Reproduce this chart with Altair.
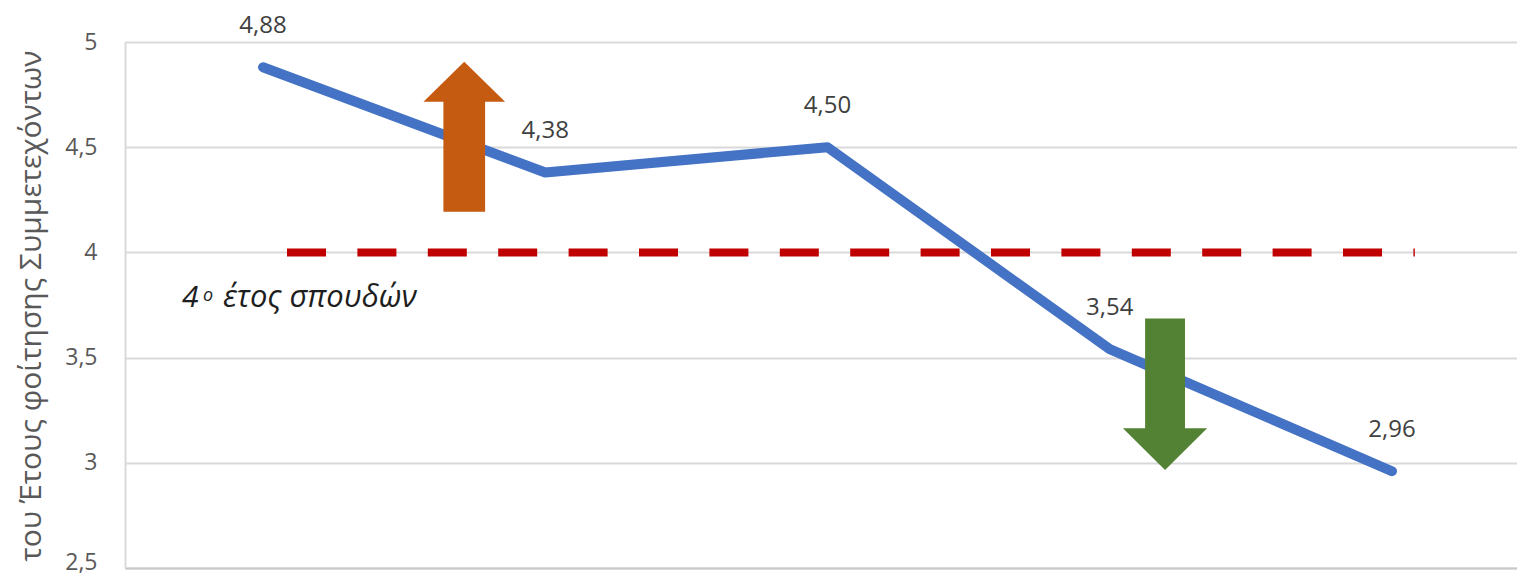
import altair as alt
import pandas as pd

# ---- data ----
x_index = [0, 1, 2, 3, 4]
values = [4.88, 4.38, 4.50, 3.54, 2.96]
y_ticks = [2.5, 3, 3.5, 4, 4.5, 5]
y_title = "του Έτους φοίτησης Συμμετεχόντων"

threshold_value = 4.0
threshold_x = [0.085, 4.081]

up_arrow_pos = [0.713, 4.550]
down_arrow_pos = [3.196, 3.326]

note_text = ["4", "ο", "έτος σπουδών"]
note_x = [-0.287, -0.213, -0.142]
note_y = [3.740, 3.768, 3.740]
note_fs = [30, 18, 31]

FONT = "Open Sans"

df = pd.DataFrame({"x": x_index, "v": values})
thr = pd.DataFrame({"x": threshold_x, "v": [threshold_value] * len(threshold_x)})
up = pd.DataFrame({"x": [up_arrow_pos[0]], "v": [up_arrow_pos[1]]})
down = pd.DataFrame({"x": [down_arrow_pos[0]], "v": [down_arrow_pos[1]]})
notes = pd.DataFrame({"x": note_x, "v": note_y, "t": note_text, "fs": note_fs})

xs = alt.Scale(domain=[-0.489, 4.443], nice=False, zero=False)
ys = alt.Scale(domain=[2.5, 5], nice=False, zero=False)

X = alt.X("x:Q", scale=xs, axis=alt.Axis(labels=False, ticks=False, grid=False, title=None,
                                         domainColor="#c8c8c8", domainWidth=2))
Y = alt.Y("v:Q", scale=ys, axis=alt.Axis(
    values=y_ticks, ticks=False, grid=True, gridColor="#d9d9d9", gridWidth=2,
    domainColor="#d9d9d9", domainWidth=2,
    labelExpr="replace(toString(datum.value), '.', ',')",
    labelFont=FONT, labelFontSize=23, labelColor="#595959", labelPadding=28,
    labelOffset={"condition": {"test": "datum.value == 2.5", "value": -6}, "value": 0},
    title=y_title, titleFont=FONT, titleFontSize=30, titleFontWeight="normal",
    titleColor="#595959", titleX=-94, titleY=8, titleAlign="right",
    titleAngle=270, titleBaseline="middle"))

base = alt.Chart(df)

dashed = alt.Chart(thr).mark_line(color="#C00000", strokeWidth=8,
                                  strokeDash=[39, 31.4], strokeCap="butt").encode(x=X, y=Y)

line = base.mark_line(color="#4472C4", strokeWidth=10, strokeCap="round",
                      strokeJoin="round").encode(x=X, y=Y)

labels = base.mark_text(font=FONT, fontSize=24, color="#404040", dy=-34,
                        baseline="alphabetic", align="center").transform_calculate(
    lab="replace(format(datum.v, '.2f'), '.', ',')").encode(x=X, y=Y, text="lab:N")

up_path = ("M0,-1 L0.544,-0.467 L0.278,-0.467 L0.278,1 L-0.278,1 "
           "L-0.278,-0.467 L-0.544,-0.467 Z")
down_path = ("M0,1 L0.555,0.45 L0.263,0.45 L0.263,-1 L-0.263,-1 "
             "L-0.263,0.45 L-0.555,0.45 Z")

up_arrow = alt.Chart(up).mark_point(shape=up_path, filled=True, size=22500,
                                    color="#C55A11", opacity=1, strokeWidth=0).encode(x=X, y=Y)
down_arrow = alt.Chart(down).mark_point(shape=down_path, filled=True, size=23000,
                                        color="#548235", opacity=1, strokeWidth=0).encode(x=X, y=Y)

note = alt.Chart(notes).mark_text(font=FONT, fontStyle="italic", color="#1e1e1e",
                                  align="left", baseline="alphabetic").encode(
    x=X, y=Y, text="t:N", size=alt.Size("fs:Q", scale=None, legend=None))

chart = alt.layer(dashed, line, labels, up_arrow, down_arrow, note).properties(
    width=1392, height=526,
    autosize=alt.AutoSizeParams(type="none"),
    padding={"left": 117, "top": 34, "right": 0, "bottom": 10},
).configure_view(strokeWidth=0).configure(background="white")

chart.save("out.html", embed_options={"renderer": "svg", "actions": False})
